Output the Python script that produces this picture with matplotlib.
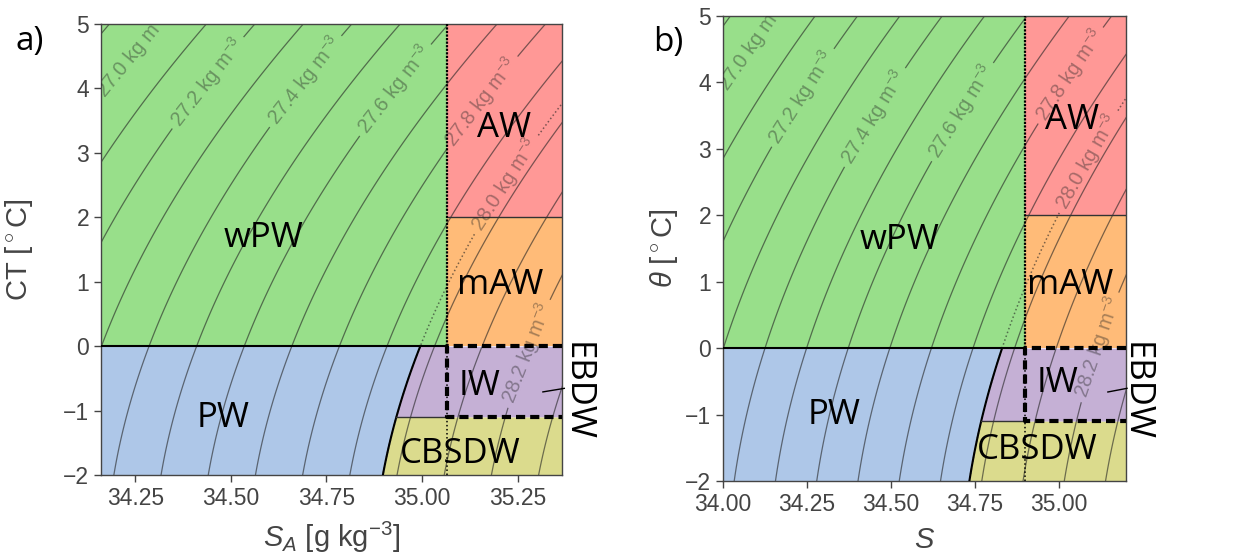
import numpy as np
import matplotlib.pyplot as plt

plt.rcParams['font.family'] = ['Liberation Sans', 'DejaVu Sans']
plt.rcParams['mathtext.fontset'] = 'custom'
plt.rcParams['mathtext.rm'] = 'Liberation Sans'
plt.rcParams['mathtext.it'] = 'Liberation Sans:italic'

# water mass limits in practical salinity S / potential temperature
s_lim = [34.0, 35.2]
t_lim = [-2, 5]
s_split = 34.9      # AW, mAW, EBDW lie at S > 34.9
t_aw = 2.0          # AW above, mAW below
t_zero = 0.0        # surface waters above, IW / PW below
t_cbsdw = -1.1      # IW above, CBSDW below
sig_pw = 27.97      # isopycnal between PW and IW / CBSDW

sig_levels = np.round(np.arange(26.8, 28.5, 0.1), 1)
sig_labelled = [27.0, 27.2, 27.4, 27.6, 27.8, 28.2]

names = ['wPW', 'AW', 'mAW', 'PW', 'IW', 'CBSDW']
colors = ['#98df8a', '#ff9896', '#ffbb78', '#aec7e8', '#c5b0d5', '#dbdb8d']

SA_FAC = 35.16504 / 35.0


def sigma0(S, T):
    # EOS-80 density at the surface, minus 1000
    rw = (999.842594 + 6.793952e-2*T - 9.095290e-3*T**2 + 1.001685e-4*T**3
          - 1.120083e-6*T**4 + 6.536332e-9*T**5)
    A = 8.24493e-1 - 4.0899e-3*T + 7.6438e-5*T**2 - 8.2467e-7*T**3 + 5.3875e-9*T**4
    B = -5.72466e-3 + 1.0227e-4*T - 1.6546e-6*T**2
    return rw + A*S + B*S**1.5 + 4.8314e-4*S**2 - 1000


def s_on_isopycnal(sig, temps):
    sg = np.linspace(33.5, 35.6, 4001)
    return np.array([np.interp(sig, sigma0(sg, t), sg) for t in temps])


def fmt(v):
    return f'{v:.1f} kg m$^{{-3}}$'


def draw(ax, fac, xlabel, ylabel, lab_pos, dot_pos, name_pos, ebdw_line, ebdw_txt):
    x0, x1 = s_lim[0]*fac, s_lim[1]*fac
    xs = s_split*fac
    ax.set_xlim(x0, x1)
    ax.set_ylim(t_lim)

    # regions
    ax.fill_between([x0, xs], t_zero, t_lim[1], color=colors[0], lw=0, zorder=0)
    ax.fill_between([xs, x1], t_aw, t_lim[1], color=colors[1], lw=0, zorder=0)
    ax.fill_between([xs, x1], t_zero, t_aw, color=colors[2], lw=0, zorder=0)
    tb = np.linspace(t_lim[0], t_zero, 60)
    sb = s_on_isopycnal(sig_pw, tb)*fac
    ax.fill_betweenx(tb, x0, sb, color=colors[3], lw=0, zorder=0)
    ti = np.linspace(t_cbsdw, t_zero, 30)
    ax.fill_betweenx(ti, s_on_isopycnal(sig_pw, ti)*fac, x1, color=colors[4], lw=0, zorder=0)
    tc = np.linspace(t_lim[0], t_cbsdw, 30)
    ax.fill_betweenx(tc, s_on_isopycnal(sig_pw, tc)*fac, x1, color=colors[5], lw=0, zorder=0)

    # isopycnals
    S = np.linspace(33.8, 35.4, 400)
    T = np.linspace(-2.5, 5.5, 400)
    SS, TT = np.meshgrid(S, T)
    sig = sigma0(SS, TT)
    plain = [v for v in sig_levels if v not in sig_labelled]
    ax.contour(SS*fac, TT, sig, levels=plain, colors='#222222',
               linewidths=0.9, alpha=0.6, zorder=2)
    cs = ax.contour(SS*fac, TT, sig, levels=sig_labelled, colors='#222222',
                    linewidths=0.9, alpha=0.6, zorder=2)
    cl = ax.clabel(cs, manual=lab_pos, inline=True, fmt=fmt, fontsize=14.5)
    for t in cl:
        t.set_alpha(0.4)
    cd = ax.contour(SS*fac, TT, sig, levels=[sig_pw], colors='#222222',
                    linewidths=1.1, linestyles=':', alpha=0.6, zorder=2)
    cl2 = ax.clabel(cd, manual=[dot_pos], inline=True, fmt=fmt, fontsize=14.5)
    for t in cl2:
        t.set_alpha(0.4)

    # borders
    ax.plot([x0, xs], [t_zero, t_zero], color='k', lw=1.5, zorder=3)
    ax.plot([xs, x1], [t_aw, t_aw], color='#333333', lw=1, zorder=3)
    ax.plot(sb, tb, color='k', lw=1.5, zorder=3)
    ax.plot([s_on_isopycnal(sig_pw, [t_cbsdw])[0]*fac, xs], [t_cbsdw, t_cbsdw],
            color='#333333', lw=1, zorder=3)
    ax.plot([xs, xs], [t_zero, t_lim[1]], color='k', lw=1.6, ls=(0, (1, 0.6)), zorder=3)
    ax.plot([xs, xs], [t_lim[0], t_zero], color='k', lw=1.1, ls=':', zorder=3)
    ax.plot([x1, xs, xs, x1], [t_zero, t_zero, t_cbsdw, t_cbsdw], color='k', lw=3,
            ls=(0, (2.2, 1.2)), zorder=4)

    for name, (px, py) in zip(names, name_pos):
        ax.text(px, py, name, family='Open Sans', fontsize=25, ha='center', va='center', zorder=5)
    ax.plot(ebdw_line[0], ebdw_line[1], color='k', lw=1, clip_on=False, zorder=5)
    ax.text(ebdw_txt[0], ebdw_txt[1], 'EBDW', rotation=-90, ha='center', va='center',
            family='Open Sans', fontsize=25, zorder=5)

    ax.set_yticks(range(t_lim[0], t_lim[1] + 1))
    ax.tick_params(colors='#444444', labelsize=16.5, length=5, width=1)
    for sp in ax.spines.values():
        sp.set_color('#444444')
        sp.set_linewidth(1)
    ax.set_xlabel(xlabel, fontsize=21, color='#444444')
    ax.set_ylabel(ylabel, fontsize=21, color='#444444')


fig = plt.figure(figsize=(12.39, 5.58), dpi=100)
ax1 = fig.add_axes([0.0815, 0.1487, 0.3721, 0.8083])
ax2 = fig.add_axes([0.5835, 0.1380, 0.3253, 0.8333])

draw(ax1, SA_FAC, '$S_A$ [g kg$^{-3}$]', 'CT [$^\\circ$C]',
     [(34.213, 4.7), (34.42, 4.18), (34.68, 4.18), (34.92, 4.02), (35.16, 3.77), (35.25, -0.05)],
     (35.225, 2.47),
     [(34.586, 1.68), (35.215, 3.38), (35.205, 0.95), (34.48, -1.12), (35.15, -0.62), (35.10, -1.67)],
     ([35.316, 35.372], [-0.71, -0.655]), (35.403, -0.71))
ax1.set_xticks([34.25, 34.5, 34.75, 35.0, 35.25])
ax1.set_xticklabels(['34.25', '34.50', '34.75', '35.00', '35.25'])
ax1.yaxis.set_label_coords(-0.143, 0.5)
ax1.xaxis.set_label_coords(0.5, -0.1)

draw(ax2, 1.0, '$S$', '$\\theta$ [$^\\circ$C]',
     [(34.08, 4.59), (34.25, 3.73), (34.45, 3.48), (34.705, 3.58), (35.13, 3.78), (35.1, 0.05)],
     (35.14, 2.64),
     [(34.527, 1.63), (35.04, 3.43), (35.035, 0.95), (34.33, -1.0), (34.995, -0.53), (34.935, -1.54)],
     ([35.146, 35.203], [-0.66, -0.605]), (35.228, -0.65))
ax2.set_xticks([34.0, 34.25, 34.5, 34.75, 35.0])
ax2.set_xticklabels(['34.00', '34.25', '34.50', '34.75', '35.00'])
ax2.yaxis.set_label_coords(-0.107, 0.5)
ax2.xaxis.set_label_coords(0.5, -0.097)

fig.text(0.024, 0.925, 'a)', family='Open Sans', fontsize=24, ha='center', va='center')
fig.text(0.539, 0.923, 'b)', family='Open Sans', fontsize=24, ha='center', va='center')

fig.savefig('out.png', dpi=100)
